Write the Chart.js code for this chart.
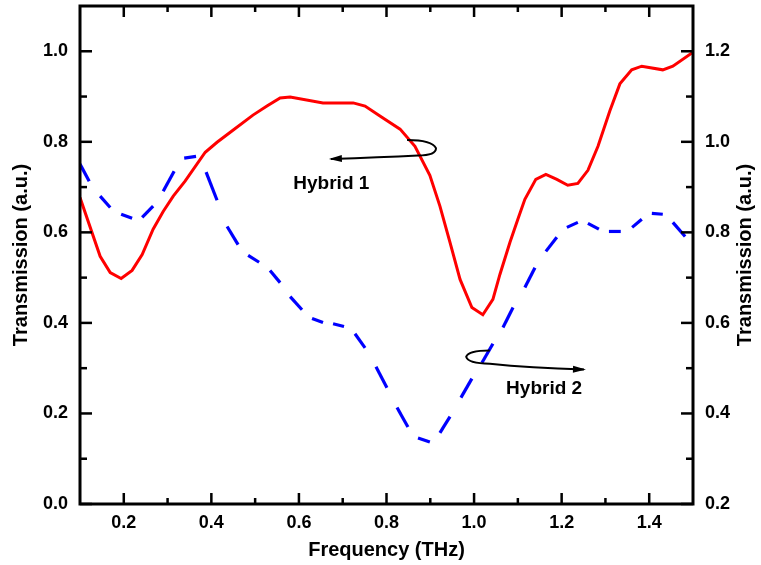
<!DOCTYPE html>
<html>
<head>
<meta charset="utf-8">
<script src="https://cdn.jsdelivr.net/npm/chart.js@4.4.1/dist/chart.umd.min.js"></script>
<style>
  html, body { margin: 0; padding: 0; background: #fff; }
  #wrap { width: 761px; height: 565px; }
</style>
</head>
<body>
<div id="wrap"><canvas id="c" width="761" height="565"></canvas></div>
<script>
// Hybrid 1 (left axis), solid red
const freq1 = [0.100, 0.146, 0.169, 0.194, 0.219, 0.242, 0.267, 0.290, 0.313, 0.340,
               0.386, 0.413, 0.450, 0.495, 0.527, 0.557, 0.580, 0.655, 0.724, 0.751,
               0.785, 0.831, 0.865, 0.899, 0.922, 0.945, 0.968, 0.995, 1.020, 1.043,
               1.059, 1.082, 1.100, 1.116, 1.141, 1.164, 1.189, 1.214, 1.237, 1.260,
               1.283, 1.310, 1.333, 1.360, 1.383, 1.431, 1.454, 1.500];
const hybrid1 = [0.677, 0.547, 0.511, 0.498, 0.516, 0.551, 0.607, 0.646, 0.680, 0.713,
                 0.777, 0.799, 0.826, 0.859, 0.879, 0.897, 0.899, 0.886, 0.886, 0.879,
                 0.857, 0.828, 0.790, 0.726, 0.658, 0.578, 0.496, 0.434, 0.418, 0.452,
                 0.507, 0.578, 0.629, 0.673, 0.717, 0.728, 0.717, 0.704, 0.708, 0.737,
                 0.790, 0.868, 0.928, 0.959, 0.967, 0.959, 0.967, 0.998];

// Hybrid 2 (right axis), blue dashes: pairs of points = one dash
const freq2 = [0.100, 0.121, 0.146, 0.169, 0.194, 0.219, 0.242, 0.267, 0.290, 0.315,
               0.338, 0.365, 0.388, 0.413, 0.436, 0.461, 0.484, 0.509, 0.534, 0.557,
               0.580, 0.607, 0.630, 0.655, 0.678, 0.703, 0.728, 0.751, 0.776, 0.801,
               0.824, 0.849, 0.872, 0.899, 0.922, 0.945, 0.970, 0.995, 1.018, 1.043,
               1.066, 1.089, 1.116, 1.139, 1.164, 1.189, 1.212, 1.237, 1.260, 1.285,
               1.308, 1.335, 1.361, 1.383, 1.406, 1.431, 1.454, 1.482];
const hybrid2 = [0.951, 0.913, 0.880, 0.855, 0.840, 0.831, 0.833, 0.858, 0.891, 0.935,
                 0.964, 0.968, 0.933, 0.871, 0.813, 0.773, 0.749, 0.734, 0.716, 0.689,
                 0.658, 0.629, 0.610, 0.601, 0.598, 0.592, 0.576, 0.545, 0.503, 0.457,
                 0.413, 0.370, 0.346, 0.337, 0.357, 0.393, 0.435, 0.477, 0.512, 0.554,
                 0.590, 0.634, 0.678, 0.722, 0.758, 0.789, 0.811, 0.822, 0.820, 0.807,
                 0.802, 0.802, 0.811, 0.829, 0.842, 0.840, 0.822, 0.791];

const xTicks = [0.2, 0.4, 0.6, 0.8, 1.0, 1.2, 1.4];
const xMinor = [0.3, 0.5, 0.7, 0.9, 1.1, 1.3];
const yTicks = [0.0, 0.2, 0.4, 0.6, 0.8, 1.0];
const yMinor = [0.1, 0.3, 0.5, 0.7, 0.9];
const y2Ticks = [0.2, 0.4, 0.6, 0.8, 1.0, 1.2];
const y2Minor = [0.3, 0.5, 0.7, 0.9, 1.1];

// annotation labels and arrow paths, in left-axis data units
const labels = [
  { text: 'Hybrid 1', x: 0.674, y: 0.708 },
  { text: 'Hybrid 2', x: 1.160, y: 0.255 }
];
// [start, ctrl, loopEnd, ctrl, loopBack, ctrl, tip]
const arrows = [
  [[0.847, 0.804], [0.904, 0.804], [0.913, 0.786], [0.913, 0.770], [0.872, 0.770], [0.785, 0.766], [0.673, 0.762]],
  [[1.036, 0.339], [0.986, 0.339], [0.982, 0.325], [0.986, 0.310], [1.036, 0.310], [1.127, 0.301], [1.251, 0.297]]
];

const FONT = 'Liberation Sans, Arial, Helvetica, sans-serif';

const pts = (xs, ys) => xs.map((x, i) => ({ x: x, y: ys[i] }));

// fixed axis boxes, no extra label padding around the plot
function fixBox(size) {
  return s => {
    if (s.isHorizontal()) s.height = size; else s.width = size;
    s.paddingTop = 0; s.paddingBottom = 0; s.paddingLeft = 0; s.paddingRight = 0;
  };
}

const decorPlugin = {
  id: 'decor',
  afterDraw(chart) {
    const ctx = chart.ctx;
    const a = chart.chartArea;
    const sx = chart.scales.x, sy = chart.scales.y, sy2 = chart.scales.y2;
    ctx.save();
    ctx.strokeStyle = '#000';
    ctx.lineWidth = 2.5;
    ctx.lineCap = 'butt';

    function tickX(vals, len) {
      vals.forEach(v => {
        const px = sx.getPixelForValue(v);
        ctx.beginPath();
        ctx.moveTo(px, a.bottom); ctx.lineTo(px, a.bottom - len);
        ctx.moveTo(px, a.top); ctx.lineTo(px, a.top + len);
        ctx.stroke();
      });
    }
    function tickY(scale, vals, len, left) {
      vals.forEach(v => {
        const py = scale.getPixelForValue(v);
        ctx.beginPath();
        if (left) { ctx.moveTo(a.left, py); ctx.lineTo(a.left + len, py); }
        else { ctx.moveTo(a.right, py); ctx.lineTo(a.right - len, py); }
        ctx.stroke();
      });
    }
    tickX(xTicks, 11); tickX(xMinor, 6);
    tickY(sy, yTicks, 12, true); tickY(sy, yMinor, 7, true);
    tickY(sy2, y2Ticks, 12, false); tickY(sy2, y2Minor, 7, false);

    // frame
    ctx.lineWidth = 3;
    ctx.strokeRect(a.left, a.top, a.right - a.left, a.bottom - a.top);

    // right axis title, reading bottom to top
    ctx.fillStyle = '#000';
    ctx.font = 'bold 20px ' + FONT;
    ctx.textAlign = 'center';
    ctx.textBaseline = 'middle';
    ctx.save();
    ctx.translate(745, (a.top + a.bottom) / 2);
    ctx.rotate(-Math.PI / 2);
    ctx.fillText('Transmission (a.u.)', 0, 0);
    ctx.restore();

    // annotation labels
    ctx.font = 'bold 19px ' + FONT;
    labels.forEach(l => {
      ctx.fillText(l.text, sx.getPixelForValue(l.x), sy.getPixelForValue(l.y));
    });

    // curly arrows
    ctx.lineWidth = 2;
    arrows.forEach(ar => {
      const p = ar.map(q => [sx.getPixelForValue(q[0]), sy.getPixelForValue(q[1])]);
      ctx.beginPath();
      ctx.moveTo(p[0][0], p[0][1]);
      ctx.quadraticCurveTo(p[1][0], p[1][1], p[2][0], p[2][1]);
      ctx.quadraticCurveTo(p[3][0], p[3][1], p[4][0], p[4][1]);
      ctx.quadraticCurveTo(p[5][0], p[5][1], p[6][0], p[6][1]);
      ctx.stroke();
      const tip = p[6], from = p[5];
      const ang = Math.atan2(tip[1] - from[1], tip[0] - from[0]);
      const L = 11, W = 3.5;
      ctx.beginPath();
      ctx.moveTo(tip[0] + Math.cos(ang) * 2, tip[1] + Math.sin(ang) * 2);
      ctx.lineTo(tip[0] - Math.cos(ang) * L - Math.sin(ang) * W, tip[1] - Math.sin(ang) * L + Math.cos(ang) * W);
      ctx.lineTo(tip[0] - Math.cos(ang) * L + Math.sin(ang) * W, tip[1] - Math.sin(ang) * L - Math.cos(ang) * W);
      ctx.closePath();
      ctx.fill();
    });
    ctx.restore();
  }
};

const tickFont = { family: FONT, size: 18, weight: 'bold' };

new Chart(document.getElementById('c'), {
  type: 'line',
  data: {
    datasets: [
      {
        label: 'Hybrid 1',
        data: pts(freq1, hybrid1),
        yAxisID: 'y',
        borderColor: '#ff0000',
        borderWidth: 3,
        pointRadius: 0,
        tension: 0,
        fill: false
      },
      {
        label: 'Hybrid 2',
        data: pts(freq2, hybrid2),
        yAxisID: 'y2',
        borderColor: '#0000ff',
        borderWidth: 3.2,
        borderCapStyle: 'butt',
        pointRadius: 0,
        tension: 0,
        fill: false,
        segment: {
          borderColor: c => (c.p0DataIndex % 2 === 0 ? '#0000ff' : 'rgba(0,0,0,0)')
        }
      }
    ]
  },
  options: {
    responsive: false,
    animation: false,
    devicePixelRatio: 1,
    layout: { autoPadding: false, padding: { top: 6, left: 0, right: 0, bottom: 0 } },
    plugins: {
      legend: { display: false },
      tooltip: { enabled: false }
    },
    scales: {
      x: {
        type: 'linear',
        min: 0.1,
        max: 1.5,
        afterBuildTicks: s => { s.ticks = xTicks.map(v => ({ value: v })); },
        afterFit: fixBox(61),
        grid: { display: false, drawTicks: false },
        border: { display: false },
        ticks: {
          font: tickFont, color: '#000', padding: 8, maxRotation: 0,
          callback: v => Number(v).toFixed(1)
        },
        title: {
          display: true, text: 'Frequency (THz)', color: '#000',
          font: { family: FONT, size: 20, weight: 'bold' },
          padding: { top: 0, bottom: 3 }
        }
      },
      y: {
        type: 'linear',
        position: 'left',
        min: 0,
        max: 1.1,
        afterBuildTicks: s => { s.ticks = yTicks.map(v => ({ value: v })); },
        afterFit: fixBox(80),
        grid: { display: false, drawTicks: false },
        border: { display: false },
        ticks: {
          font: tickFont, color: '#000', padding: 12,
          callback: v => Number(v).toFixed(1)
        },
        title: {
          display: true, text: 'Transmission (a.u.)', color: '#000',
          font: { family: FONT, size: 20, weight: 'bold' },
          padding: { top: 9, bottom: 0 }
        }
      },
      y2: {
        type: 'linear',
        position: 'right',
        min: 0.2,
        max: 1.3,
        afterBuildTicks: s => { s.ticks = y2Ticks.map(v => ({ value: v })); },
        afterFit: fixBox(68),
        grid: { display: false, drawTicks: false },
        border: { display: false },
        ticks: {
          font: tickFont, color: '#000', padding: 12,
          callback: v => Number(v).toFixed(1)
        }
      }
    }
  },
  plugins: [decorPlugin]
});
</script>
</body>
</html>
